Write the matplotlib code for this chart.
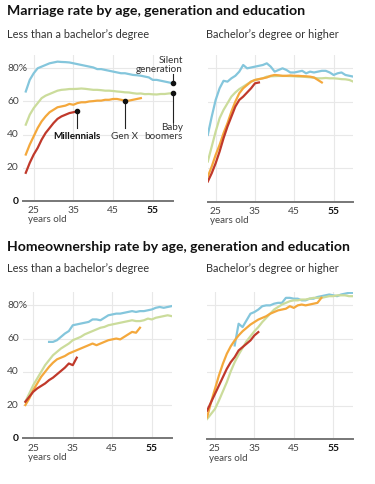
import numpy as np
import matplotlib
matplotlib.use("Agg")
import matplotlib.pyplot as plt
import matplotlib.transforms as mtransforms

plt.rcParams['font.family'] = ['Lato', 'DejaVu Sans']

# ---- data ----
ages_silent = np.arange(23, 61)
ages_boomer = np.arange(23, 61)
ages_genx = np.arange(23, 53)
ages_mill = np.arange(23, 37)

# marriage, less than a bachelor's degree
mar_lo_silent = [66, 73, 77, 80, 81, 82, 83, 83.5, 84, 83.8, 83.7, 83.5, 83, 82.5, 82, 81.5, 81, 80.5, 79.5,
                 79.5, 79, 78.5, 78, 77.5, 77, 77, 76.5, 76, 75.8, 75.5, 75, 74.5, 73, 73, 72.5, 72, 71.5, 71]
mar_lo_boomer = [46, 52, 56, 59, 62, 63.5, 64.5, 65.5, 66.5, 67, 67.2, 67.5, 67.5, 67.6, 67.8, 67.6, 67.3, 67,
                 67, 66.8, 66.5, 66.5, 66.3, 66, 65.8, 65.5, 65.4, 65, 64.7, 64.8, 64.4, 64.5, 64.3, 64.2,
                 64.5, 64.5, 64.8, 65]
mar_lo_genx = [28, 34, 39, 44, 48, 51, 53.5, 55, 56.5, 57, 57.5, 58.5, 58, 59, 59.5, 59.5, 60, 60.2, 60.5, 60.5,
               61, 61, 61.5, 61.5, 61, 60.5, 60.5, 61, 61.5, 62]
mar_lo_mill = [17, 23, 28, 32, 37, 41, 44, 47, 49.5, 51, 52, 53, 53.5, 54]

# marriage, bachelor's degree or higher
mar_hi_silent = [40, 51, 61, 68, 72.5, 72, 74, 75.5, 78, 82, 80, 80.5, 81, 81.5, 82, 83, 81, 78, 79, 80, 79,
                 77.5, 77.5, 78, 78.5, 77, 78, 77.5, 78, 78.5, 78.5, 77.5, 76, 77, 77.5, 76, 75.5, 75]
mar_hi_boomer = [24, 33, 42, 50, 55, 59, 63, 65.5, 67.5, 69, 70.5, 72, 73, 73.5, 74, 75, 75.2, 75.3, 75.4,
                 75.4, 75.4, 75.3, 75.2, 75, 75, 74.8, 74.6, 74.3, 74, 74, 74.2, 74, 74, 73.8, 73.5, 73.4, 73, 72]
mar_hi_genx = [15, 21, 28, 34, 41, 47, 54, 60, 65, 68, 70, 72, 73, 73.5, 74, 74.5, 75.5, 76, 75.8, 75.5, 75.5,
               75.7, 75.5, 75.5, 75.3, 75.2, 75, 74.5, 73, 71.5]
mar_hi_mill = [12, 17, 23, 30, 38, 45, 51, 57, 61, 63, 65.5, 68, 71, 71.5]

# homeownership, less than a bachelor's degree
ages_home_lo_silent = np.arange(29, 61)
home_lo_silent = [58, 58, 59, 61, 63, 64.5, 68, 68.5, 69, 69.5, 70, 71.5, 71.5, 71, 72.5, 74, 74.5, 75, 75,
                  75.5, 76, 76.5, 76, 76.5, 76.5, 77, 77.5, 78.5, 79, 78.5, 79, 79.5]
home_lo_boomer = [22, 27, 32, 36, 40, 44, 47, 50, 52, 54, 55.5, 57, 59, 60, 61, 62.5, 63.5, 64.5, 65.5, 66.5,
                  67, 68, 68.5, 69, 69.5, 70, 70.5, 71, 70.5, 70.5, 71, 72, 71.5, 72.5, 73, 73.5, 74, 73.5]
home_lo_genx = [20, 24, 29, 33, 37, 40, 43, 45.5, 47.5, 48.5, 49.5, 51, 52, 53, 54, 55, 56, 57, 56, 57, 58,
                59, 59.5, 60, 59.5, 61, 62.5, 64, 63.5, 66.5]
home_lo_mill = [22, 25, 28, 30, 31.5, 33, 35, 36.5, 38.5, 40.5, 42.5, 45, 44, 48.5]

# homeownership, bachelor's degree or higher
ages_home_hi_silent = np.arange(30, 61)
home_hi_silent = [56, 69, 67, 71, 75, 76, 77.5, 79.5, 80, 80, 81, 81.5, 81.5, 84.5, 84.5, 84, 84, 83, 83, 84,
                  84, 85, 85.5, 86, 86.5, 86, 85.5, 86.5, 87, 87.5, 87.5]
home_hi_boomer = [12, 15, 18, 23, 28.5, 34, 40.5, 46, 50.5, 54.5, 58.5, 61.5, 64.5, 67, 70, 72.5, 75, 77.5, 79,
                  80.5, 81.5, 82.5, 83, 83, 83.5, 83.5, 84, 84.5, 84.5, 84.5, 85, 85.5, 85.5, 86, 86, 86, 85.5, 85.5]
home_hi_genx = [13, 22, 30, 38, 45, 51, 55.5, 59, 62, 64.5, 66.5, 68.5, 70, 71.5, 72.5, 73.5, 75, 76, 77, 77.5,
                78, 79.5, 78.5, 80, 80.5, 80, 80.5, 81, 81.5, 84.5]
home_hi_mill = [17, 22, 27, 32, 37, 42, 46, 49, 53, 55, 57, 59, 62, 64]

xticks = [25, 35, 45, 55]
yticks = [20, 40, 60, 80]
ytick_labels = ['20', '40', '60', '80%']

c_silent = '#84c6dc'
c_boomer = '#cbdc9b'
c_genx = '#f4a83c'
c_mill = '#c0392b'

W, H = 375, 484
fig = plt.figure(figsize=(W / 100, H / 100), dpi=100)


def add_ax(left, right, bottom, top):
    return fig.add_axes([left / W, 1 - bottom / H, (right - left) / W, (bottom - top) / H])


def style(ax, xlim, left_labels):
    ax.set_xlim(*xlim)
    ax.set_ylim(0, 88)
    for s in ax.spines.values():
        s.set_visible(False)
    ax.set_xticks([])
    ax.set_yticks([])
    for t in xticks:
        ax.axvline(t, color='#e8e8e8', lw=0.8, zorder=0)
    for t in yticks:
        ax.axhline(t, color='#e8e8e8', lw=0.8, zorder=0)
    ax.axhline(0, color='#777777', lw=1.4, zorder=1, clip_on=False)
    tr = mtransforms.blended_transform_factory(ax.transData, ax.transAxes)
    for t in xticks:
        bold = t == 55
        ax.text(t, -0.067, str(t), transform=tr, ha='center', va='center', fontsize=7.4,
                color='#111111' if bold else '#444444', fontweight='bold' if bold else 'normal')
    ax.text(23.6, -0.13, 'years old', transform=tr, ha='left', va='center', fontsize=7, color='#444444')
    if left_labels:
        trl = mtransforms.blended_transform_factory(fig.transFigure, ax.transData)
        for t, lab in zip(yticks, ytick_labels):
            ax.text(7 / W, t, lab, transform=trl, ha='left', va='center', fontsize=7.4, color='#444444')
        ax.text(13 / W, 0, '0', transform=trl, ha='left', va='center', fontsize=7.4,
                color='#111111', fontweight='bold')


def draw(ax, silent_x, silent, boomer, genx, mill):
    ax.plot(silent_x, silent, color=c_silent, lw=1.6, zorder=3)
    ax.plot(ages_boomer, boomer, color=c_boomer, lw=1.6, zorder=3)
    ax.plot(ages_genx, genx, color=c_genx, lw=1.6, zorder=4)
    ax.plot(ages_mill, mill, color=c_mill, lw=1.6, zorder=5)


# titles
fig.text(7 / W, 1 - 11 / H, 'Marriage rate by age, generation and education', fontsize=10.2,
         fontweight='bold', color='#111111', va='center', ha='left')
fig.text(7 / W, 1 - 34 / H, "Less than a bachelor\u2019s degree", fontsize=7.9, color='#333333',
         va='center', ha='left')
fig.text(206 / W, 1 - 34 / H, "Bachelor\u2019s degree or higher", fontsize=7.9, color='#333333',
         va='center', ha='left')
fig.text(7 / W, 1 - 247 / H, 'Homeownership rate by age, generation and education', fontsize=10.1,
         fontweight='bold', color='#111111', va='center', ha='left')
fig.text(7 / W, 1 - 269 / H, "Less than a bachelor\u2019s degree", fontsize=7.9, color='#333333',
         va='center', ha='left')
fig.text(206 / W, 1 - 269 / H, "Bachelor\u2019s degree or higher", fontsize=7.9, color='#333333',
         va='center', ha='left')

# marriage, less than BA
ax1 = add_ax(23.0, 172.6, 201, 55)
style(ax1, (22.3, 60), True)
draw(ax1, ages_silent, mar_lo_silent, mar_lo_boomer, mar_lo_genx, mar_lo_mill)

# annotations
ann_kw = dict(color='#222222', lw=0.8, zorder=6)
ax1.plot([36, 36], [mar_lo_mill[-1], 44], **ann_kw)
ax1.plot([36], [mar_lo_mill[-1]], 'o', color='#111111', ms=3, zorder=7)
ax1.text(36, 39, 'Millennials', ha='center', va='center', fontsize=7.1, fontweight='bold', color='#111111')
gx = 48
gy = mar_lo_genx[list(ages_genx).index(gx)]
ax1.plot([gx, gx], [gy, 44], **ann_kw)
ax1.plot([gx], [gy], 'o', color='#111111', ms=3, zorder=7)
ax1.text(gx, 39, 'Gen X', ha='center', va='center', fontsize=7.1, color='#333333')
ax1.plot([60, 60], [mar_lo_boomer[-1], 47.5], clip_on=False, **ann_kw)
ax1.plot([60], [mar_lo_boomer[-1]], 'o', color='#111111', ms=3, zorder=7, clip_on=False)
ax1.text(62.6, 41.7, 'Baby\nboomers', ha='right', va='center', fontsize=7.1, color='#333333',
         linespacing=1.0)
ax1.plot([60, 60], [mar_lo_silent[-1], 76.5], clip_on=False, **ann_kw)
ax1.plot([60], [mar_lo_silent[-1]], 'o', color='#111111', ms=3, zorder=7, clip_on=False)
ax1.text(62.6, 82.2, 'Silent\ngeneration', ha='right', va='center', fontsize=7.1, color='#333333',
         linespacing=1.0)

# marriage, BA or higher
ax2 = add_ax(207.8, 353.3, 201.5, 55)
style(ax2, (23, 60), False)
draw(ax2, ages_silent, mar_hi_silent, mar_hi_boomer, mar_hi_genx, mar_hi_mill)

# homeownership, less than BA
ax3 = add_ax(22.6, 171.6, 438.3, 292)
style(ax3, (22.3, 60), True)
draw(ax3, ages_home_lo_silent, home_lo_silent, home_lo_boomer, home_lo_genx, home_lo_mill)

# homeownership, BA or higher
ax4 = add_ax(207.1, 352.9, 439, 292)
style(ax4, (23, 60), False)
draw(ax4, ages_home_hi_silent, home_hi_silent, home_hi_boomer, home_hi_genx, home_hi_mill)

fig.savefig('out.png', dpi=100, facecolor='white')
